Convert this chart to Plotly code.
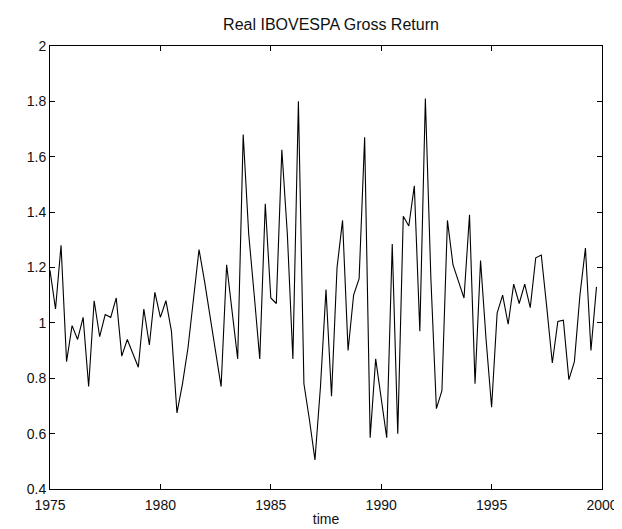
import plotly.graph_objects as go

start_year = 1975
step = 0.25
returns = [
    1.19, 1.05, 1.28, 0.86, 0.99, 0.94, 1.02, 0.77, 1.08, 0.95,
    1.03, 1.02, 1.09, 0.88, 0.94, 0.89, 0.84, 1.05, 0.92, 1.11,
    1.02, 1.08, 0.97, 0.675, 0.78, 0.91, 1.08, 1.265, 1.15, 1.02,
    0.89, 0.77, 1.21, 1.03, 0.87, 1.68, 1.32, 1.10, 0.87, 1.43,
    1.09, 1.07, 1.625, 1.32, 0.87, 1.80, 0.78, 0.65, 0.505, 0.77,
    1.12, 0.735, 1.20, 1.37, 0.90, 1.10, 1.16, 1.67, 0.585, 0.87,
    0.73, 0.585, 1.285, 0.60, 1.385, 1.35, 1.495, 0.97, 1.81, 1.16,
    0.69, 0.755, 1.37, 1.21, 1.15, 1.09, 1.39, 0.78, 1.225, 0.94,
    0.695, 1.035, 1.10, 0.995, 1.14, 1.07, 1.14, 1.055, 1.235, 1.245,
    1.055, 0.855, 1.005, 1.01, 0.795, 0.86, 1.10, 1.27, 0.90, 1.13,
]
times = [start_year + step * i for i in range(len(returns))]

x_ticks = [1975, 1980, 1985, 1990, 1995, 2000]
y_ticks = [0.4, 0.6, 0.8, 1.0, 1.2, 1.4, 1.6, 1.8, 2.0]
y_tick_labels = ["0.4", "0.6", "0.8", "1", "1.2", "1.4", "1.6", "1.8", "2"]

title_text = "Real IBOVESPA Gross Return"
x_label = "time"

fig = go.Figure()
fig.add_trace(go.Scatter(
    x=times, y=returns, mode="lines",
    line=dict(color="black", width=1.1),
    showlegend=False, hoverinfo="skip",
))

font_family = "Liberation Sans, Arial, sans-serif"
axis_common = dict(
    showline=True, linecolor="black", linewidth=1, mirror="allticks",
    ticks="inside", ticklen=5, tickcolor="black", tickwidth=1,
    showgrid=False, zeroline=False,
    tickfont=dict(family=font_family, size=14, color="#111"),
)

fig.update_layout(
    width=622, height=529,
    margin=dict(l=42, r=18, t=38, b=48),
    paper_bgcolor="white", plot_bgcolor="white",
    title=dict(text=title_text, xref="container", yref="container",
               x=(42 + 604) / 2 / 622, xanchor="center",
               y=1 - 11 / 529, yanchor="top",
               font=dict(family=font_family, size=16, color="#111")),
    xaxis=dict(range=[1975, 2000], tickvals=x_ticks, ticktext=[str(t) for t in x_ticks],
               ticklabelstandoff=3,
               title=dict(text=x_label, standoff=2, font=dict(family=font_family, size=14, color="#111")),
               **axis_common),
    yaxis=dict(range=[0.4, 2.0], tickvals=y_ticks, ticktext=y_tick_labels, **axis_common),
)

fig.write_html("out.html")
